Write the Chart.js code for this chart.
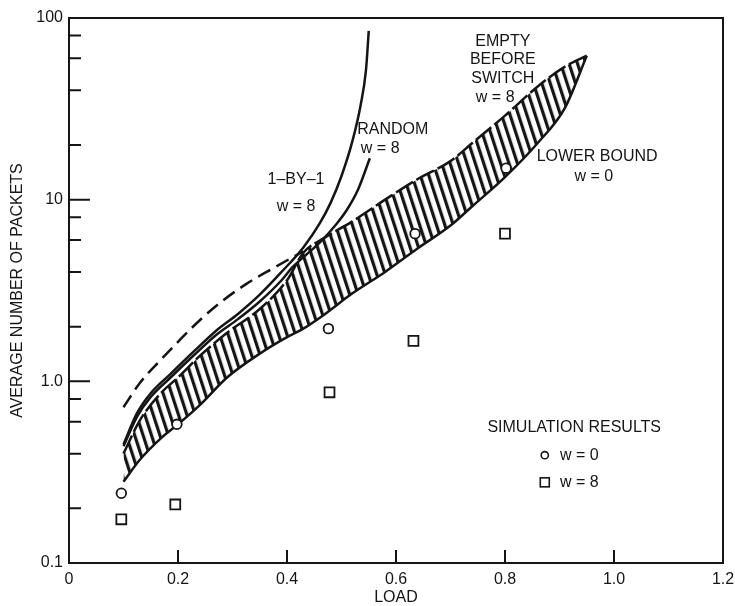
<!DOCTYPE html>
<html>
<head>
<meta charset="utf-8">
<script src="https://cdn.jsdelivr.net/npm/chart.js@4.4.1/dist/chart.umd.min.js"></script>
<style>
  html, body { margin: 0; padding: 0; background: #fff; }
  #wrap { width: 735px; height: 606px; }
</style>
</head>
<body>
<div id="wrap"><canvas id="packetChart"></canvas></div>
<script>
// hatched band: lower bound (w=0) and empty-before-switch (w=8)
const bandLoad = [0.1, 0.13, 0.17, 0.2, 0.24, 0.29, 0.35, 0.4, 0.43, 0.47, 0.52, 0.58, 0.64, 0.7, 0.74, 0.8, 0.86, 0.91, 0.95];
const lowerBound = [0.28, 0.37, 0.49, 0.58, 0.74, 1.05, 1.42, 1.75, 1.95, 2.35, 3.05, 4.0, 5.4, 7.2, 9.2, 13.3, 20.5, 32, 62];
const emptyBeforeSwitch = [0.40, 0.61, 0.87, 1.05, 1.38, 1.85, 2.5, 3.6, 5.1, 6.2, 7.6, 10.0, 13.0, 16.3, 20.5, 29, 42, 54, 62];

// dashed continuation at light load
const dashLoad = [0.1, 0.13, 0.167, 0.2, 0.24, 0.28, 0.327, 0.375, 0.43];
const dashValues = [0.72, 0.98, 1.3, 1.65, 2.17, 2.75, 3.46, 4.2, 5.2];

const randomLoad = [0.1, 0.125, 0.15, 0.185, 0.23, 0.27, 0.31, 0.35, 0.39, 0.41, 0.436, 0.46, 0.49, 0.51, 0.53, 0.552];
const randomValues = [0.44, 0.64, 0.82, 1.04, 1.4, 1.8, 2.2, 2.75, 3.6, 4.25, 5.0, 5.8, 7.3, 8.8, 11.3, 16.9];

const oneByOneLoad = [0.1, 0.125, 0.15, 0.185, 0.23, 0.27, 0.31, 0.35, 0.39, 0.43, 0.46, 0.48, 0.5, 0.52, 0.535, 0.545, 0.55];
const oneByOneValues = [0.45, 0.67, 0.86, 1.09, 1.47, 1.9, 2.35, 3.0, 4.0, 5.46, 7.4, 9.6, 13.5, 21, 33, 52, 85];

// simulation results
const simLoadW0 = [0.096, 0.198, 0.476, 0.635, 0.802];
const simW0 = [0.242, 0.58, 1.95, 6.5, 14.9];
const simLoadW8 = [0.096, 0.195, 0.478, 0.632, 0.8];
const simW8 = [0.174, 0.21, 0.87, 1.67, 6.5];

const xTickValues = [0, 0.2, 0.4, 0.6, 0.8, 1.0, 1.2];
const xTickLabels = ['0', '0.2', '0.4', '0.6', '0.8', '1.0', '1.2'];
const xTickMarks = [0.2, 0.4, 0.6, 0.8, 1.0];
const yTickValues = [0.1, 1, 10, 100];
const yTickLabels = ['0.1', '1.0', '10', '100'];
const yMinorTicks = [0.2, 0.4, 0.6, 0.8, 2, 4, 6, 8, 20, 40, 60, 80];

const INK = '#151515';
const FONT = '"Liberation Sans", Arial, Helvetica, sans-serif';

const toPoints = (xs, ys) => xs.map((x, i) => ({ x: x, y: ys[i] }));

function makeHatch() {
    const c = document.createElement('canvas');
    c.width = 8;
    c.height = 8;
    const g = c.getContext('2d');
    g.fillStyle = INK;
    g.fillRect(0, 0, 3.2, 8);
    const p = g.createPattern(c, 'repeat');
    p.setTransform(new DOMMatrix().rotate(-18));
    return p;
}

// text placed in data coordinates
const notes = [
    { text: '1–BY–1', x: 0.4165, y: 12.9 },
    { text: 'w = 8', x: 0.4165, y: 9.2 },
    { text: 'RANDOM', x: 0.594, y: 24.4 },
    { text: 'w = 8', x: 0.571, y: 19.1 },
    { text: 'EMPTY', x: 0.796, y: 74.3 },
    { text: 'BEFORE', x: 0.796, y: 59.2 },
    { text: 'SWITCH', x: 0.796, y: 46.5 },
    { text: 'w = 8', x: 0.782, y: 36.5 },
    { text: 'LOWER BOUND', x: 0.969, y: 17.3 },
    { text: 'w = 0', x: 0.963, y: 13.4 },
    { text: 'SIMULATION RESULTS', x: 0.927, y: 0.558 }
];

const framePlugin = {
    id: 'frame',
    afterDatasetsDraw(chart) {
        const { ctx, chartArea: a, scales: { x, y } } = chart;
        ctx.save();
        ctx.strokeStyle = INK;
        ctx.lineWidth = 2;
        ctx.strokeRect(a.left, a.top, a.right - a.left, a.bottom - a.top);

        ctx.beginPath();
        yTickValues.forEach(v => {
            const py = y.getPixelForValue(v);
            ctx.moveTo(a.left, py);
            ctx.lineTo(a.left + 21, py);
        });
        yMinorTicks.forEach(v => {
            const py = y.getPixelForValue(v);
            ctx.moveTo(a.left, py);
            ctx.lineTo(a.left + 12, py);
        });
        xTickMarks.forEach(v => {
            const px = x.getPixelForValue(v);
            ctx.moveTo(px, a.bottom);
            ctx.lineTo(px, a.bottom - 13);
        });
        ctx.stroke();

        ctx.fillStyle = INK;
        ctx.font = '16px ' + FONT;
        ctx.textAlign = 'center';
        ctx.textBaseline = 'middle';
        notes.forEach(n => {
            ctx.fillText(n.text, x.getPixelForValue(n.x), y.getPixelForValue(n.y));
        });

        // simulation legend
        const cx = x.getPixelForValue(0.873);
        const cy = y.getPixelForValue(0.392);
        ctx.lineWidth = 1.6;
        ctx.beginPath();
        ctx.arc(cx, cy, 3.6, 0, Math.PI * 2);
        ctx.stroke();
        const sy = y.getPixelForValue(0.278);
        ctx.strokeRect(cx - 4.5, sy - 4.5, 9, 9);
        ctx.textAlign = 'left';
        ctx.fillText('w = 0', x.getPixelForValue(0.901), cy);
        ctx.fillText('w = 8', x.getPixelForValue(0.901), sy);
        ctx.restore();
    }
};

const curve = (data, extra) => Object.assign({
    data: data,
    showLine: true,
    borderColor: INK,
    borderWidth: 2.5,
    pointRadius: 0,
    fill: false,
    cubicInterpolationMode: 'monotone',
    order: 2
}, extra);

new Chart(document.getElementById('packetChart').getContext('2d'), {
    type: 'scatter',
    data: {
        datasets: [
            curve(toPoints(bandLoad, lowerBound), { label: 'Lower bound w=0', order: 3 }),
            curve(toPoints(bandLoad, emptyBeforeSwitch), {
                label: 'Empty before switch w=8',
                fill: '-1',
                backgroundColor: makeHatch(),
                borderDash: [20, 4],
                order: 3
            }),
            curve(toPoints(dashLoad, dashValues), { label: 'Empty before switch (light load)', borderDash: [14, 7] }),
            curve(toPoints(randomLoad, randomValues), { label: 'Random w=8' }),
            curve(toPoints(oneByOneLoad, oneByOneValues), { label: '1-by-1 w=8' }),
            {
                label: 'Simulation w=0',
                data: toPoints(simLoadW0, simW0),
                pointStyle: 'circle',
                pointRadius: 4.8,
                borderWidth: 1.8,
                borderColor: INK,
                backgroundColor: '#fff',
                order: 1
            },
            {
                label: 'Simulation w=8',
                data: toPoints(simLoadW8, simW8),
                pointStyle: 'rect',
                pointRadius: 7,
                borderWidth: 1.8,
                borderColor: INK,
                backgroundColor: '#fff',
                order: 1
            }
        ]
    },
    options: {
        responsive: true,
        maintainAspectRatio: false,
        animation: false,
        layout: { padding: { top: 18, right: 12, left: 0, bottom: 0 } },
        plugins: {
            legend: { display: false },
            tooltip: { enabled: false }
        },
        scales: {
            x: {
                type: 'linear',
                min: 0,
                max: 1.2,
                afterBuildTicks: s => { s.ticks = xTickValues.map(v => ({ value: v })); },
                afterFit: s => {
                    s.height = 43;
                    s.paddingLeft = 0;
                    s.paddingRight = 0;
                },
                grid: { display: false, drawTicks: false },
                border: { display: false },
                ticks: {
                    padding: 7,
                    color: INK,
                    font: { family: FONT, size: 16 },
                    maxRotation: 0,
                    callback: v => xTickLabels[xTickValues.indexOf(v)]
                },
                title: {
                    display: true,
                    text: 'LOAD',
                    color: INK,
                    font: { family: FONT, size: 16, lineHeight: 1 },
                    padding: { top: 0, bottom: 0 }
                }
            },
            y: {
                type: 'logarithmic',
                min: 0.1,
                max: 100,
                afterBuildTicks: s => { s.ticks = yTickValues.map(v => ({ value: v })); },
                afterFit: s => {
                    s.width = 69;
                    s.paddingTop = 0;
                    s.paddingBottom = 0;
                },
                grid: { display: false, drawTicks: false },
                border: { display: false },
                ticks: {
                    padding: 6,
                    color: INK,
                    font: { family: FONT, size: 16 },
                    callback: v => yTickLabels[yTickValues.indexOf(v)]
                },
                title: {
                    display: true,
                    text: 'AVERAGE NUMBER OF PACKETS',
                    color: INK,
                    font: { family: FONT, size: 16, lineHeight: 1 },
                    padding: { top: 10, bottom: 0 }
                }
            }
        }
    },
    plugins: [framePlugin]
});
</script>
</body>
</html>
